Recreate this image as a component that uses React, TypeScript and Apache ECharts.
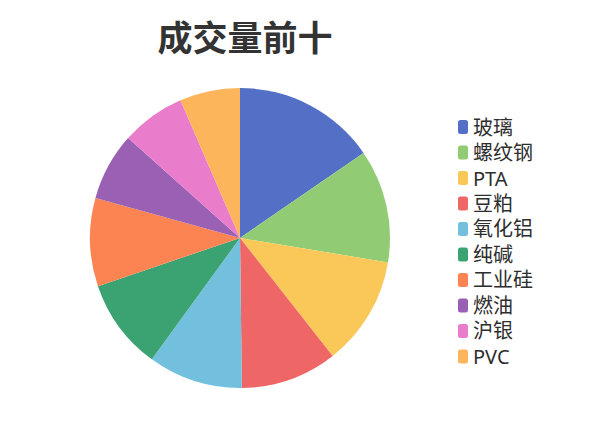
import { useEffect, useRef } from 'react'
import * as echarts from 'echarts'

// Top-ten traded contracts by volume.
const TITLE = '成交量前十'
const NAMES = ['玻璃', '螺纹钢', 'PTA', '豆粕', '氧化铝', '纯碱', '工业硅', '燃油', '沪银', 'PVC']
const VOLUMES = [154, 122, 118, 104, 102, 98, 95, 73, 69, 65]
const COLORS = [
  '#5470c6',
  '#91cc75',
  '#fac858',
  '#ee6666',
  '#73c0de',
  '#3ba272',
  '#fc8452',
  '#9a60b4',
  '#ea7ccc',
  '#fdb55b',
]

const FONT = "'Noto Sans', 'Noto Sans CJK SC', sans-serif"

function buildOption(): echarts.EChartsOption {
  return {
    animation: false,
    color: COLORS,
    textStyle: { fontFamily: FONT },
    title: {
      text: TITLE,
      left: 240,
      top: 15,
      textAlign: 'center',
      textStyle: { fontSize: 35, fontWeight: 'bold', color: '#333', fontFamily: FONT },
    },
    legend: {
      orient: 'vertical',
      left: 453,
      top: 112,
      icon: 'roundRect',
      itemWidth: 10,
      itemHeight: 14,
      itemGap: 5.5,
      itemTextGap: 9,
      textStyle: { fontSize: 20, color: '#2e2e2e', fontFamily: FONT },
      data: NAMES,
    },
    series: [
      {
        type: 'pie',
        center: [240, 238],
        radius: 150,
        startAngle: 90,
        label: { show: false },
        labelLine: { show: false },
        data: NAMES.map((name, i) => ({ name, value: VOLUMES[i] })),
      },
    ],
  }
}

export default function App() {
  const ref = useRef<HTMLDivElement>(null)

  useEffect(() => {
    const el = ref.current
    if (!el) return
    document.body.style.margin = '0'
    const chart = echarts.init(el, undefined, { renderer: 'svg' })
    chart.setOption(buildOption())
    return () => chart.dispose()
  }, [])

  return <div ref={ref} style={{ width: 600, height: 428, background: '#fff' }} />
}
